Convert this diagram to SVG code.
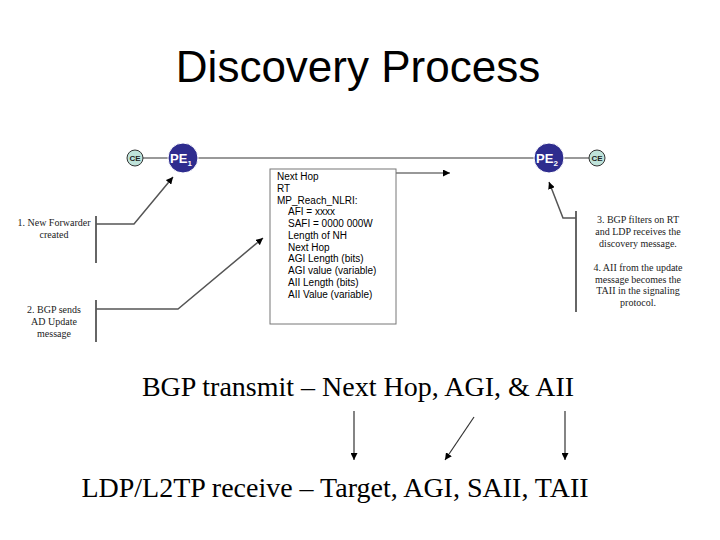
<svg xmlns="http://www.w3.org/2000/svg" width="720" height="540" viewBox="0 0 720 540">
<style>
.sans{font-family:"Liberation Sans",Arial,sans-serif;}
.serif{font-family:"Liberation Serif","Times New Roman",serif;}
.conn{stroke:#333;stroke-width:1.2;fill:none;}
.brk{stroke:#666;stroke-width:2;fill:none;}
.pe{fill:#2e2c8e;stroke:#ffffff;stroke-width:1;}
.ce{fill:#bfe3da;stroke:#333;stroke-width:1;}
.petxt{font-family:"Liberation Sans",Arial,sans-serif;font-weight:bold;fill:#fff;font-size:13px;}
.cetxt{font-family:"Liberation Sans",Arial,sans-serif;font-weight:bold;fill:#222;font-size:8px;}
.box{font-family:"Liberation Sans",Arial,sans-serif;font-size:10px;fill:#000;}
.note{font-family:"Liberation Serif","Times New Roman",serif;font-size:10px;fill:#222;}
</style>
<defs>
<marker id="ah" viewBox="0 0 10 10" refX="10" refY="5" markerWidth="7" markerHeight="7" orient="auto" markerUnits="userSpaceOnUse">
<path d="M0,0 L10,5 L0,10 z" fill="#000"/>
</marker>
</defs>
<rect width="720" height="540" fill="#fff"/>
<text x="358" y="82" text-anchor="middle" class="sans" font-size="44" fill="#000">Discovery Process</text>

<g id="connectors">
<line x1="135" y1="158" x2="597" y2="158" stroke="#999" stroke-width="2"/>
<line class="conn" x1="396" y1="173" x2="450" y2="173" marker-end="url(#ah)"/>
<polyline class="brk" points="96,216 96,263"/>
<polyline class="conn" points="96,224 134,224 173,177" marker-end="url(#ah)" style="stroke:#555;stroke-width:1.5"/>
<polyline class="brk" points="96,300 96,342"/>
<polyline class="conn" points="96,309 178,309 263,238" marker-end="url(#ah)" style="stroke:#555;stroke-width:1.5"/>
<polyline class="brk" points="576,211 576,312"/>
<polyline class="conn" points="576,218 563,218 549,182" marker-end="url(#ah)" style="stroke:#555;stroke-width:1.5"/>
<line class="conn" x1="354" y1="411" x2="354" y2="460" marker-end="url(#ah)"/>
<line class="conn" x1="474" y1="417" x2="445" y2="460" marker-end="url(#ah)"/>
<line class="conn" x1="565" y1="411" x2="565" y2="460" marker-end="url(#ah)"/>
</g>

<g id="ce1">
<circle class="ce" cx="135" cy="158" r="8"/>
<text class="cetxt" x="135" y="161" text-anchor="middle">CE</text>
</g>
<g id="pe1">
<circle class="pe" cx="183" cy="158" r="15"/>
<text class="petxt" x="181" y="162.5" text-anchor="middle">PE<tspan font-size="8" dy="3">1</tspan></text>
</g>
<g id="pe2">
<circle class="pe" cx="549" cy="158" r="15"/>
<text class="petxt" x="547" y="162.5" text-anchor="middle">PE<tspan font-size="8" dy="3">2</tspan></text>
</g>
<g id="ce2">
<circle class="ce" cx="597" cy="158" r="8"/>
<text class="cetxt" x="597" y="161" text-anchor="middle">CE</text>
</g>

<g id="update-box">
<rect x="270" y="169" width="126" height="155" fill="#fff" stroke="#777" stroke-width="1"/>
<text class="box" x="277" y="180">Next Hop</text>
<text class="box" x="277" y="191.8">RT</text>
<text class="box" x="277" y="203.5">MP_Reach_NLRI:</text>
<text class="box" x="288" y="215.3">AFI = xxxx</text>
<text class="box" x="288" y="227.1">SAFI = 0000 000W</text>
<text class="box" x="288" y="238.9">Length of NH</text>
<text class="box" x="288" y="250.6">Next Hop</text>
<text class="box" x="288" y="262.4">AGI Length (bits)</text>
<text class="box" x="288" y="274.2">AGI value (variable)</text>
<text class="box" x="288" y="285.9">AII Length (bits)</text>
<text class="box" x="288" y="297.7">AII Value (variable)</text>
</g>

<g id="note1">
<text class="note" x="54" y="226" text-anchor="middle" font-size="7">1. New Forwarder</text>
<text class="note" x="54" y="238" text-anchor="middle" font-size="7">created</text>
</g>
<g id="note2">
<text class="note" x="54" y="313" text-anchor="middle">2. BGP sends</text>
<text class="note" x="54" y="325" text-anchor="middle">AD Update</text>
<text class="note" x="54" y="337" text-anchor="middle">message</text>
</g>
<g id="note3">
<text class="note" x="638" y="223" text-anchor="middle">3. BGP filters on RT</text>
<text class="note" x="638" y="235" text-anchor="middle">and LDP receives the</text>
<text class="note" x="638" y="246.5" text-anchor="middle">discovery message.</text>
<text class="note" x="638" y="271" text-anchor="middle">4. AII from the update</text>
<text class="note" x="638" y="282.5" text-anchor="middle">message becomes the</text>
<text class="note" x="638" y="294" text-anchor="middle">TAII in the signaling</text>
<text class="note" x="638" y="305.5" text-anchor="middle">protocol.</text>
</g>

<g id="bgp-line">
<text class="serif" x="358" y="396" text-anchor="middle" font-size="28" fill="#000">BGP transmit – Next Hop, AGI, &amp; AII</text>
</g>
<g id="ldp-line">
<text class="serif" x="335" y="497" text-anchor="middle" font-size="28" fill="#000">LDP/L2TP receive – Target, AGI, SAII, TAII</text>
</g>
</svg>
